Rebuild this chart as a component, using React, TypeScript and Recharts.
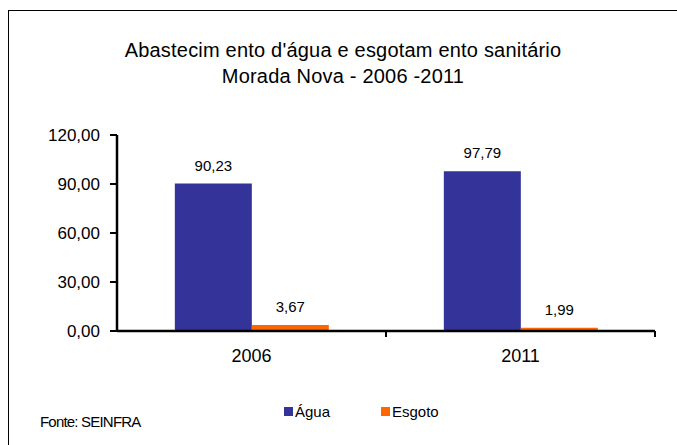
import { Bar, BarChart, LabelList, Legend, XAxis, YAxis } from 'recharts';

const YEARS = ['2006', '2011'];
const AGUA = [90.23, 97.79];
const ESGOTO = [3.67, 1.99];
const Y_TICKS = [0, 30, 60, 90, 120];

const AGUA_COLOR = '#333399';
const ESGOTO_COLOR = '#FF6600';
const FONT = '"Liberation Sans", Arial, sans-serif';

const data = YEARS.map((ano, i) => ({ ano, agua: AGUA[i], esgoto: ESGOTO[i] }));

const fmt = (v: number | string) => Number(v).toFixed(2).replace('.', ',');

// category label plus a small tick at the right edge of each category band
function YearTick(props: any) {
  const { x, y, payload } = props;
  const half = payload?.offset ?? 0;
  const axisY = y - 18;
  return (
    <g>
      <text x={x} y={y} dy="0.71em" textAnchor="middle" fill="#000" fontSize={18} fontFamily={FONT}>
        {payload.value}
      </text>
      <line x1={x + half} x2={x + half} y1={axisY} y2={axisY + 6} stroke="#000" strokeWidth={2} />
    </g>
  );
}

function LegendContent({ payload }: any) {
  return (
    <div style={{ display: 'flex', paddingLeft: 284, fontFamily: FONT, fontSize: 15, color: '#000' }}>
      {(payload || []).map((it: any) => (
        <div key={it.value} style={{ display: 'flex', alignItems: 'center', width: 97 }}>
          <span style={{ width: 9, height: 9, background: it.color, marginRight: 2 }} />
          <span>{it.value}</span>
        </div>
      ))}
    </div>
  );
}

export default function App() {
  return (
    <div style={{ position: 'fixed', left: 0, top: 0, width: 677, height: 445, overflow: 'hidden', background: '#fff' }}>
      <div style={{ position: 'absolute', left: 8, top: 10, width: 720, height: 500, border: '1.5px solid #000' }} />
      <div
        style={{
          position: 'absolute',
          left: 0,
          top: 37,
          width: 686,
          textAlign: 'center',
          fontFamily: FONT,
          fontSize: 20,
          lineHeight: '26px',
          letterSpacing: 0.2,
          color: '#000',
        }}
      >
        <div>Abastecim ento d'água e esgotam ento sanitário</div>
        <div>Morada Nova - 2006 -2011</div>
      </div>
      <div
        style={{
          position: 'absolute',
          left: 40,
          top: 413,
          fontFamily: FONT,
          fontSize: 15,
          letterSpacing: -0.8,
          color: '#000',
        }}
      >
        Fonte: SEINFRA
      </div>
      <div style={{ position: 'absolute', left: 0, top: 0 }}>
        <BarChart
          width={677}
          height={445}
          data={data}
          margin={{ top: 135, right: 22, bottom: 84, left: 0 }}
          barGap={0}
          barCategoryGap="21.5%"
        >
          <XAxis
            dataKey="ano"
            height={30}
            axisLine={{ stroke: '#000', strokeWidth: 2.5 }}
            tickLine={false}
            tickSize={0}
            tickMargin={18}
            tick={<YearTick />}
          />
          <YAxis
            width={117}
            domain={[0, 120]}
            ticks={Y_TICKS}
            tickFormatter={fmt}
            axisLine={{ stroke: '#000', strokeWidth: 2.5 }}
            tickLine={{ stroke: '#000', strokeWidth: 2 }}
            tickSize={7}
            tickMargin={10}
            tick={{ fill: '#000', fontSize: 17, fontFamily: FONT }}
          />
          <Legend
            verticalAlign="middle"
            itemSorter="dataKey"
            content={<LegendContent />}
            wrapperStyle={{ position: 'absolute', left: 0, top: 403, width: 677 }}
          />
          <Bar dataKey="agua" name="Água" fill={AGUA_COLOR} isAnimationActive={false}>
            <LabelList dataKey="agua" position="top" offset={13} formatter={fmt} fill="#000" fontSize={15} fontFamily={FONT} />
          </Bar>
          <Bar dataKey="esgoto" name="Esgoto" fill={ESGOTO_COLOR} isAnimationActive={false}>
            <LabelList dataKey="esgoto" position="top" offset={13} formatter={fmt} fill="#000" fontSize={15} fontFamily={FONT} />
          </Bar>
        </BarChart>
      </div>
    </div>
  );
}
